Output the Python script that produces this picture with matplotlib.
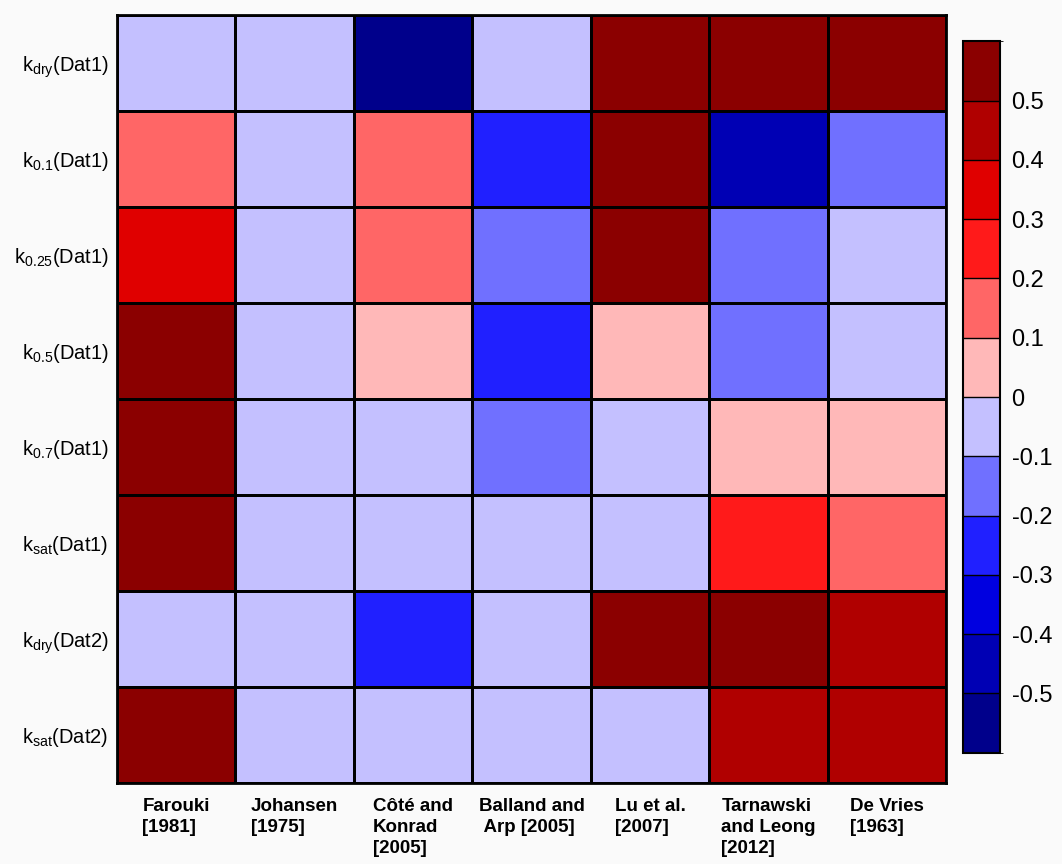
import numpy as np
import matplotlib.pyplot as plt
from matplotlib.colors import ListedColormap, BoundaryNorm

plt.rcParams['font.family'] = ['Liberation Sans', 'DejaVu Sans']
plt.rcParams['mathtext.fontset'] = 'custom'
plt.rcParams['mathtext.rm'] = 'Liberation Sans'

# models (columns) and conductivity cases (rows)
models = ['Farouki\n[1981]', 'Johansen\n[1975]', 'Côté and\nKonrad\n[2005]',
          'Balland and\n Arp [2005]', 'Lu et al.\n[2007]',
          'Tarnawski\nand Leong\n[2012]', 'De Vries\n[1963]']
cases = [r'$\mathregular{k_{dry}}$(Dat1)', r'$\mathregular{k_{0.1}}$(Dat1)',
         r'$\mathregular{k_{0.25}}$(Dat1)', r'$\mathregular{k_{0.5}}$(Dat1)',
         r'$\mathregular{k_{0.7}}$(Dat1)', r'$\mathregular{k_{sat}}$(Dat1)',
         r'$\mathregular{k_{dry}}$(Dat2)', r'$\mathregular{k_{sat}}$(Dat2)']

# values estimated from the colour bins
kdry_dat1 = [-0.05, -0.05, -0.55, -0.05, 0.55, 0.55, 0.55]
k01_dat1 = [0.15, -0.05, 0.15, -0.25, 0.55, -0.45, -0.15]
k025_dat1 = [0.35, -0.05, 0.15, -0.15, 0.55, -0.15, -0.05]
k05_dat1 = [0.55, -0.05, 0.05, -0.25, 0.05, -0.15, -0.05]
k07_dat1 = [0.55, -0.05, -0.05, -0.15, -0.05, 0.05, 0.05]
ksat_dat1 = [0.55, -0.05, -0.05, -0.05, -0.05, 0.25, 0.15]
kdry_dat2 = [-0.05, -0.05, -0.25, -0.05, 0.55, 0.55, 0.45]
ksat_dat2 = [0.55, -0.05, -0.05, -0.05, -0.05, 0.45, 0.45]

data = np.array([kdry_dat1, k01_dat1, k025_dat1, k05_dat1,
                 k07_dat1, ksat_dat1, kdry_dat2, ksat_dat2])

levels = np.round(np.arange(-0.6, 0.61, 0.1), 2)
cb_ticks = levels[1:-1]
cb_labels = ['-0.5', '-0.4', '-0.3', '-0.2', '-0.1', '0',
             '0.1', '0.2', '0.3', '0.4', '0.5']
colors = ['#00008B', '#0000B4', '#0000E0', '#2020FF', '#7070FF', '#C4C0FF',
          '#FFB8B8', '#FF6666', '#FF1A1A', '#E00000', '#B00000', '#8B0000']
cmap = ListedColormap(colors)
norm = BoundaryNorm(levels, cmap.N)

fig = plt.figure(figsize=(10.62, 8.64), dpi=100, facecolor='#FAFAFA')
ax = fig.add_axes([0.110, 0.094, 0.781, 0.889])
mesh = ax.pcolormesh(data, cmap=cmap, norm=norm, edgecolors='black', linewidth=1.0)
ax.set_ylim(len(cases), 0)
ax.set_xlim(0, len(models))

ax.set_xticks(np.arange(len(models)) + 0.5)
ax.set_xticklabels(models, fontsize=13.5, fontweight='bold', va='top',
                   multialignment='left', linespacing=1.3)
ax.set_yticks(np.arange(len(cases)) + 0.5)
ax.set_yticklabels(cases, fontsize=14.5)
ax.tick_params(length=0, pad=6)
ax.tick_params(axis='x', pad=11)
for s in ax.spines.values():
    s.set_linewidth(2)

cax = fig.add_axes([0.907, 0.129, 0.035, 0.823])
cb = fig.colorbar(mesh, cax=cax, ticks=cb_ticks, drawedges=True)
cb.ax.set_yticklabels(cb_labels, fontsize=17)
cb.ax.tick_params(length=0, pad=8)
cb.outline.set_linewidth(1.5)
cb.dividers.set_linewidth(1.0)

fig.savefig('out.png', dpi=100, facecolor=fig.get_facecolor())
